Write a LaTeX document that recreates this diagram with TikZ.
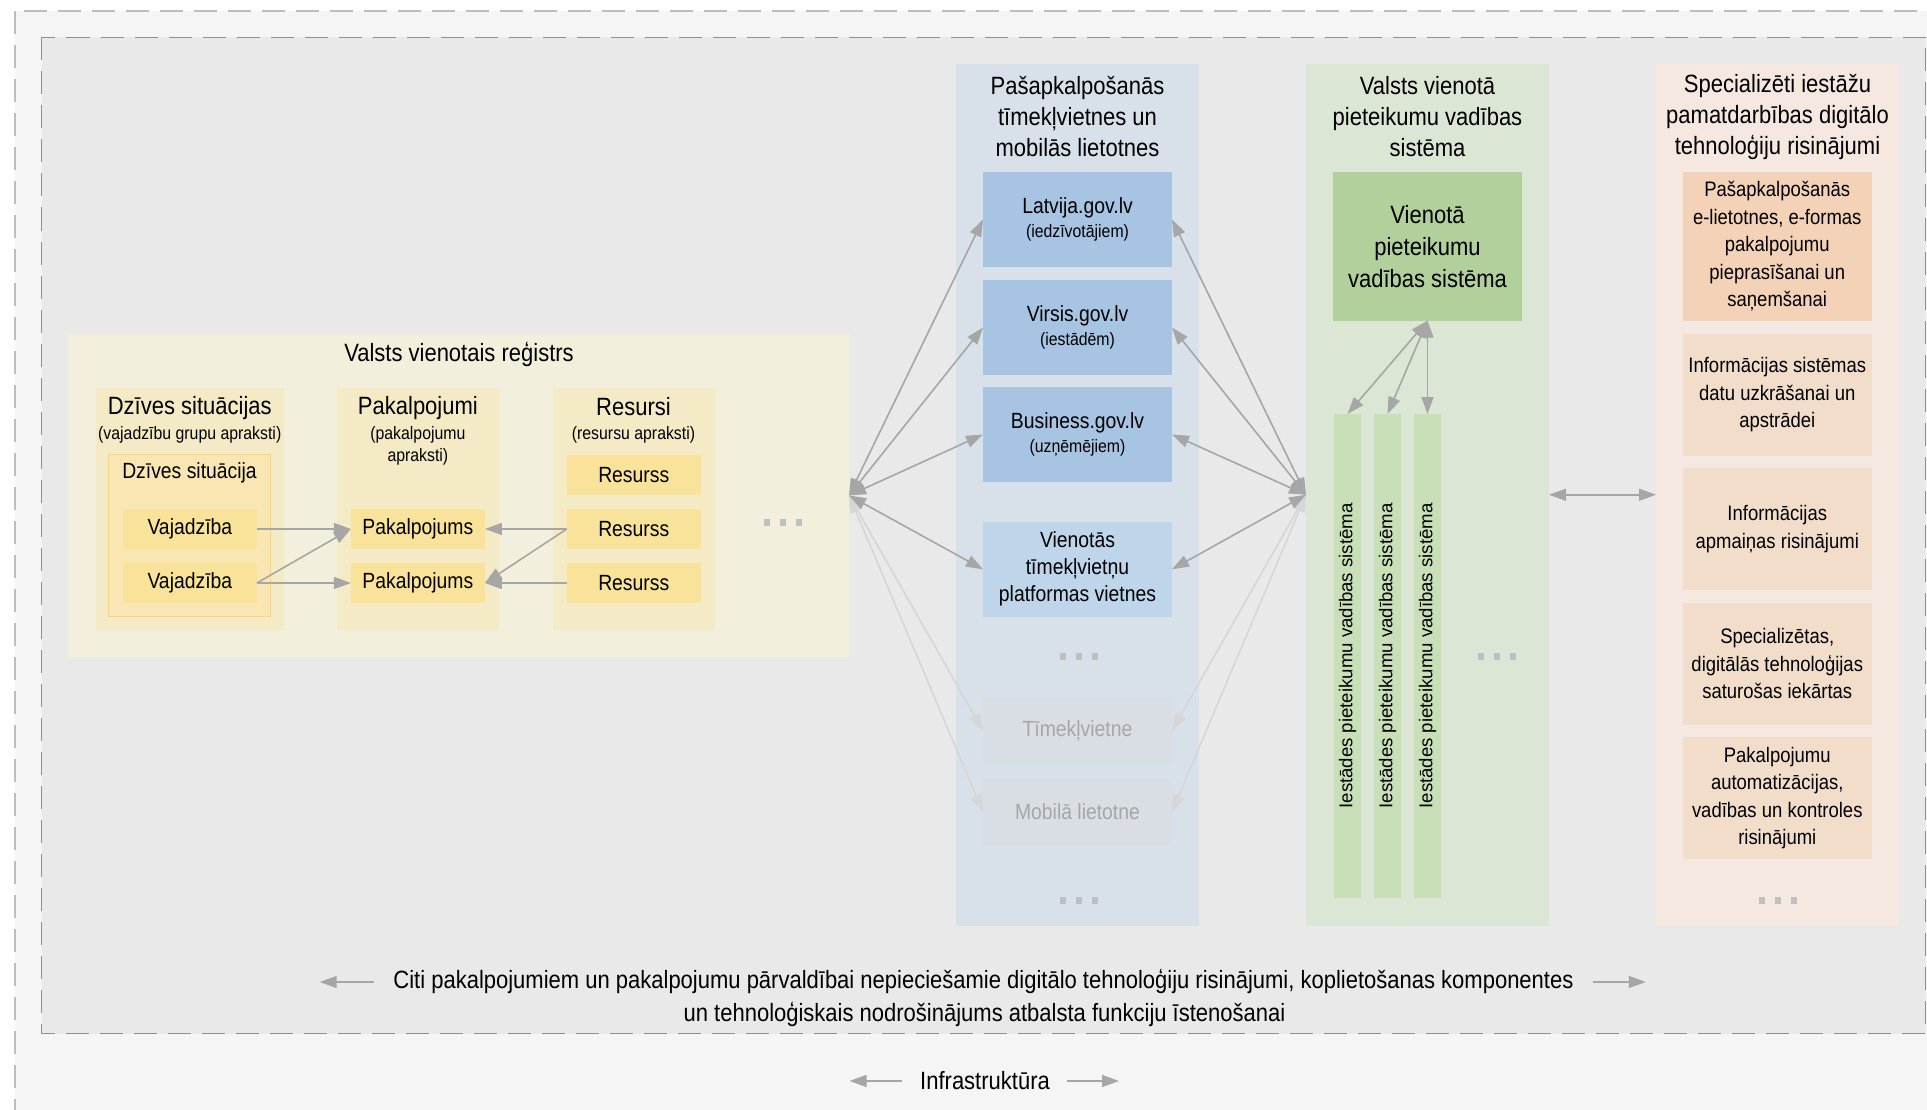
\documentclass[tikz,border=0pt]{standalone}
\usepackage{fontspec}
\setmainfont{Liberation Sans}[FakeStretch=0.88]
\newfontfamily\stripfont{Liberation Sans}
\usetikzlibrary{arrows.meta}
\definecolor{outerbg}{HTML}{F5F5F5}
\definecolor{outerline}{HTML}{BDBDBD}
\definecolor{innerbg}{HTML}{E9E9E9}
\definecolor{innerline}{HTML}{8F8F8F}
\definecolor{regbg}{HTML}{F2F0DD}
\definecolor{colyellow}{HTML}{F4EBC6}
\definecolor{dzsbg}{HTML}{FAE6B3}
\definecolor{dzsline}{HTML}{FDD66E}
\definecolor{itemyellow}{HTML}{F9E29A}
\definecolor{bluecol}{HTML}{D8E1EA}
\definecolor{bluebox}{HTML}{A7C5E3}
\definecolor{blueboxlight}{HTML}{BED5EA}
\definecolor{greybox}{HTML}{D9DEE4}
\definecolor{greytext}{HTML}{A6A6A6}
\definecolor{greencol}{HTML}{DBE6D4}
\definecolor{greenbox}{HTML}{B1D09C}
\definecolor{greenstrip}{HTML}{C8DFB7}
\definecolor{peachcol}{HTML}{F4E8E0}
\definecolor{peachbox1}{HTML}{F3D2B8}
\definecolor{peachbox}{HTML}{F2DDCB}
\definecolor{arrgray}{HTML}{A6A6A6}
\definecolor{arrlight}{HTML}{D6D6D6}
\definecolor{dotgray}{HTML}{BFBFBF}
\newcommand{\subfont}{\fontsize{18}{22}\selectfont}

\begin{document}
\begin{tikzpicture}
[x=1pt, y=-1pt,
panel/.style={rectangle, inner sep=0pt, outer sep=0pt, align=center},
heading/.style={inner sep=0pt, align=center, font=\fontsize{25}{31}\selectfont},
subheading/.style={inner sep=0pt, align=center, font=\fontsize{18}{22}\selectfont},
colbox/.style={panel, fill=colyellow, minimum width=162, minimum height=242.5},
itembox/.style={panel, fill=itemyellow, minimum width=134, minimum height=40, font=\fontsize{22}{27}\selectfont},
sitebox/.style={panel, fill=bluebox, minimum width=189, font=\fontsize{22}{27}\selectfont},
stripbox/.style={panel, fill=greenstrip, minimum width=484, minimum height=27, rotate=90, font=\stripfont\fontsize{18.6}{22}\selectfont},
specbox/.style={panel, fill=peachbox, minimum width=188.5, minimum height=121.7, font=\fontsize{21}{27.5}\selectfont},
link/.style={-{Triangle[length=17pt,width=12pt]}, draw=arrgray, line width=1.6pt},
duallink/.style={link, {Triangle[length=17pt,width=12pt]}-{Triangle[length=17pt,width=12pt]}},
faintlink/.style={duallink, draw=arrlight},
moredots/.pic={\foreach \k in {-1,0,1} \fill[dotgray] (\k*16-3,-3.5) rectangle ++(6,7);}]
\useasboundingbox (0,0) rectangle (1927,1110);
\fill[white] (0,0) rectangle (1927,1110);
\draw[fill=outerbg, draw=outerline, line width=1.3pt, dash pattern=on 23pt off 11pt] (15,11) rectangle (1990,1180);
\draw[fill=innerbg, draw=innerline, line width=1.3pt, dash pattern=on 23pt off 11pt] (41.5,37.5) rectangle (1925.5,1033.5);
\node[panel, fill=regbg, minimum width=781, minimum height=323]	(reg) at (458.5, 495.5) {};
\node[heading]	(regtitle) at (459, 354.5) {Valsts vienotais reģistrs};
\node[colbox, minimum width=187.5]	(dzsit) at (189.75, 508.75) {};
\node[colbox, minimum width=161.8]	(pakcol) at (417.9, 508.75) {};
\node[colbox]	(rescol) at (633.5, 508.75) {};
\node[heading]	(dzsittitle) at (189.75, 408) {Dzīves situācijas};
\node[subheading]	(dzsitsub) at (189.75, 435) {(vajadzību grupu apraksti)};
\node[heading]	(pakcoltitle) at (417.9, 408) {Pakalpojumi};
\node[subheading]	(pakcolsub) at (417.9, 446) {(pakalpojumu\\apraksti)};
\node[heading]	(rescoltitle) at (633.5, 407) {Resursi};
\node[subheading]	(rescolsub) at (633.5, 435) {(resursu apraksti)};
\node[panel, fill=dzsbg, draw=dzsline, line width=1pt, minimum width=162, minimum height=162]	(dzs) at (189.5, 535.5) {};
\node[heading, font=\fontsize{22}{27}\selectfont]	(dzstitle) at (189.5, 473) {Dzīves situācija};
\node[itembox]	(vaj1) at (189.85, 529) {Vajadzība};
\node[itembox]	(vaj2) at (189.85, 583) {Vajadzība};
\node[itembox]	(pak1) at (417.9, 529) {Pakalpojums};
\node[itembox]	(pak2) at (417.9, 583) {Pakalpojums};
\node[itembox]	(res1) at (633.75, 475.3) {Resurss};
\node[itembox]	(res2) at (633.75, 529) {Resurss};
\node[itembox]	(res3) at (633.75, 583) {Resurss};
\pic at (783, 522.5) {moredots};
\node[panel, fill=bluecol, minimum width=243, minimum height=861.5]	(portals) at (1077.5, 494.75) {};
\node[heading]	(portalstitle) at (1077.5, 117) {Pašapkalpošanās\\tīmekļvietnes un\\mobilās lietotnes};
\node[sitebox, minimum height=95]	(latvija) at (1077.5, 219.5) {Latvija.gov.lv\\[-3pt]{\subfont(iedzīvotājiem)}};
\node[sitebox, minimum height=95]	(virsis) at (1077.5, 327.5) {Virsis.gov.lv\\[-3pt]{\subfont(iestādēm)}};
\node[sitebox, minimum height=95]	(business) at (1077.5, 434.5) {Business.gov.lv\\[-3pt]{\subfont(uzņēmējiem)}};
\node[sitebox, fill=blueboxlight, minimum height=94.7]	(platforma) at (1077.5, 569.3) {Vienotās\\tīmekļvietņu\\platformas vietnes};
\pic at (1079, 656.5) {moredots};
\node[sitebox, fill=greybox, text=greytext, minimum height=67]	(timek) at (1077.5, 730.7) {Tīmekļvietne};
\node[sitebox, fill=greybox, text=greytext, minimum height=67.7]	(mobila) at (1077.5, 811.8) {Mobilā lietotne};
\pic at (1079, 900) {moredots};
\node[panel, fill=greencol, minimum width=243, minimum height=861.5]	(vpvs) at (1427.5, 494.75) {};
\node[heading]	(vpvstitle) at (1427.5, 117) {Valsts vienotā\\pieteikumu vadības\\sistēma};
\node[panel, fill=greenbox, minimum width=189, minimum height=148.7, font=\fontsize{25}{32}\selectfont]	(vpvsbox) at (1427.5, 246.35) {Vienotā\\pieteikumu\\vadības sistēma};
\node[stripbox]	(ipvs1) at (1347.5, 656) {Iestādes pieteikumu vadības sistēma};
\node[stripbox]	(ipvs2) at (1387.5, 656) {Iestādes pieteikumu vadības sistēma};
\node[stripbox]	(ipvs3) at (1427.5, 656) {Iestādes pieteikumu vadības sistēma};
\pic at (1496.5, 656.5) {moredots};
\node[panel, fill=peachcol, minimum width=242.6, minimum height=861.5]	(spec) at (1777.3, 494.75) {};
\node[heading]	(spectitle) at (1777.5, 117) {Specializēti iestāžu\\pamatdarbības digitālo\\tehnoloģiju risinājumi};
\node[specbox, fill=peachbox1, minimum height=148.7]	(spec1) at (1777.25, 246.35) {Pašapkalpošanās\\e-lietotnes, e-formas\\pakalpojumu\\pieprasīšanai un\\saņemšanai};
\node[specbox]	(spec2) at (1777.25, 394.85) {Informācijas sistēmas\\datu uzkrāšanai un\\apstrādei};
\node[specbox]	(spec3) at (1777.25, 529) {Informācijas\\apmaiņas risinājumi};
\node[specbox]	(spec4) at (1777.25, 663.85) {Specializētas,\\digitālās tehnoloģijas\\saturošas iekārtas};
\node[specbox]	(spec5) at (1777.25, 798.25) {Pakalpojumu\\automatizācijas,\\vadības un kontroles\\risinājumi};
\pic at (1777.5, 900) {moredots};
\node[heading]	(citi1) at (983.5, 982) {Citi pakalpojumiem un pakalpojumu pārvaldībai nepieciešamie digitālo tehnoloģiju risinājumi, koplietošanas komponentes};
\node[heading]	(citi2) at (984.5, 1015) {un tehnoloģiskais nodrošinājums atbalsta funkciju īstenošanai};
\node[heading]	(infra) at (985, 1081) {Infrastruktūra};
\draw[link] (vaj1.east) -- (pak1.west);
\draw[link] (vaj2.east) -- (pak1.west);
\draw[link] (vaj2.east) -- (pak2.west);
\draw[link] (res2.west) -- (pak1.east);
\draw[link] (res2.west) -- (pak2.east);
\draw[link] (res3.west) -- (pak2.east);
\draw[faintlink] (reg.east) -- (timek.west);
\draw[faintlink] (reg.east) -- (mobila.west);
\draw[faintlink] (timek.east) -- (vpvs.west);
\draw[faintlink] (mobila.east) -- (vpvs.west);
\draw[duallink] (reg.east) -- (latvija.west);
\draw[duallink] (reg.east) -- (virsis.west);
\draw[duallink] (reg.east) -- (business.west);
\draw[duallink] (reg.east) -- (platforma.west);
\draw[duallink] (latvija.east) -- (vpvs.west);
\draw[duallink] (virsis.east) -- (vpvs.west);
\draw[duallink] (business.east) -- (vpvs.west);
\draw[duallink] (platforma.east) -- (vpvs.west);
\draw[duallink] (vpvsbox.south) -- (ipvs1.east);
\draw[duallink] (vpvsbox.south) -- (ipvs2.east);
\draw[duallink] (vpvsbox.south) -- (ipvs3.east);
\draw[duallink] (vpvs.east) -- (spec.west);
\draw[link] ([xshift=-19.5]citi1.west) -- ([xshift=-73.5]citi1.west);
\draw[link] ([xshift=19.5]citi1.east) -- ([xshift=72]citi1.east);
\draw[link] ([xshift=-18.5]infra.west) -- ([xshift=-70.5]infra.west);
\draw[link] ([xshift=17]infra.east) -- ([xshift=69]infra.east);
\end{tikzpicture}
\end{document}
